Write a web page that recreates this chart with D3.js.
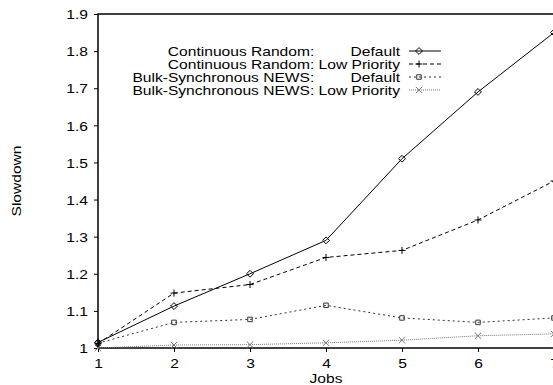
<!DOCTYPE html>
<html>
<head>
<meta charset="utf-8">
<script src="https://cdn.jsdelivr.net/npm/d3@7"></script>
<style>
  body { margin: 0; background: #fff; }
  svg { display: block; }
  text { font-family: "Liberation Sans", Arial, Helvetica, sans-serif; fill: #000; }
</style>
</head>
<body>
<div id="main"></div>
<script>
// data
const jobs = [1, 2, 3, 4, 5, 6, 7];
const crDefault = [1.015, 1.113, 1.2, 1.29, 1.51, 1.69, 1.85];
const crLow = [1.012, 1.148, 1.171, 1.244, 1.263, 1.345, 1.45];
const bulkDefault = [1.013, 1.069, 1.077, 1.115, 1.081, 1.069, 1.081];
const bulkLow = [1.0, 1.008, 1.009, 1.014, 1.021, 1.033, 1.038];
const yTicks = [1, 1.1, 1.2, 1.3, 1.4, 1.5, 1.6, 1.7, 1.8, 1.9];
const yTickLabels = ['1', '1.1', '1.2', '1.3', '1.4', '1.5', '1.6', '1.7', '1.8', '1.9'];
const legendPrefix = ['Continuous Random:', 'Continuous Random:', 'Bulk-Synchronous NEWS:', 'Bulk-Synchronous NEWS:'];
const legendSuffix = ['Default', 'Low Priority', 'Default', 'Low Priority'];

const width = 553, height = 385;
const plotLeft = 98, plotRight = 554, plotTop = 14, plotBottom = 348;
const SX = 1.2;      // text in the reference is drawn a bit wide
const fontSize = 13;

const series = [
  {values: crDefault, dash: null, color: '#000', marker: 'diamond'},
  {values: crLow, dash: '4,3', color: '#000', marker: 'plus'},
  {values: bulkDefault, dash: '2,3', color: '#333', marker: 'square'},
  {values: bulkLow, dash: '1,1', color: '#777', marker: 'cross'}
];

const svg = d3.select('#main').append('svg')
  .attr('width', width)
  .attr('height', height);

const x = d3.scaleLinear().domain([1, 7]).range([plotLeft, plotRight]);
const y = d3.scaleLinear().domain([1, 1.9]).range([plotBottom, plotTop]);

function stretchedText(g, tx, ty, str, anchor) {
  return g.append('text')
    .attr('transform', `translate(${tx},${ty}) scale(${SX},1)`)
    .attr('text-anchor', anchor)
    .attr('font-size', fontSize)
    .text(str);
}

// axes
const yAxis = svg.append('g')
  .attr('transform', `translate(${plotLeft},0)`)
  .call(d3.axisLeft(y).tickValues(yTicks).tickSize(4).tickFormat((d, i) => yTickLabels[i]));
const xAxis = svg.append('g')
  .attr('transform', `translate(0,${plotBottom})`)
  .call(d3.axisBottom(x).tickValues(jobs).tickSize(4).tickFormat(d3.format('d')));

[yAxis, xAxis].forEach(ax => {
  ax.select('.domain').remove();
  ax.selectAll('line').attr('stroke', '#000').attr('stroke-width', 1);
  ax.selectAll('text').attr('font-size', fontSize).attr('font-family', null);
});
yAxis.selectAll('text')
  .attr('x', null).attr('dy', '0.36em')
  .attr('transform', `translate(-10,0) scale(${SX},1)`);
xAxis.selectAll('text')
  .attr('y', null).attr('dy', null)
  .attr('transform', `translate(0,20) scale(${SX},1)`);

// frame
svg.append('rect')
  .attr('x', plotLeft).attr('y', plotTop)
  .attr('width', plotRight - plotLeft).attr('height', plotBottom - plotTop)
  .attr('fill', 'none').attr('stroke', '#000').attr('stroke-width', 1.5);

// axis titles
stretchedText(svg, x(4), 383, 'Jobs', 'middle');
svg.append('text')
  .attr('transform', `translate(21,${(plotTop + plotBottom) / 2}) rotate(-90) scale(${SX},1)`)
  .attr('text-anchor', 'middle')
  .attr('font-size', fontSize)
  .text('Slowdown');

// markers
const sym = {
  diamond: d3.symbol().type(d3.symbolDiamond2).size(30),
  square: d3.symbol().type(d3.symbolSquare2).size(26),
  cross: d3.symbol().type(d3.symbolX).size(28)
};

function drawMarker(g, type, cx, cy, color) {
  if (type === 'plus') {
    g.append('path')
      .attr('d', `M${cx - 3.5},${cy}H${cx + 3.5}M${cx},${cy - 3.5}V${cy + 3.5}`)
      .attr('stroke', color).attr('stroke-width', 1).attr('fill', 'none');
  } else {
    g.append('path')
      .attr('d', sym[type]())
      .attr('transform', `translate(${cx},${cy})`)
      .attr('fill', 'none').attr('stroke', color).attr('stroke-width', 1);
  }
}

const line = d3.line().x((d, i) => x(jobs[i])).y(d => y(d));
const plot = svg.append('g');

series.slice().reverse().forEach(s => {
  plot.append('path')
    .attr('d', line(s.values))
    .attr('fill', 'none')
    .attr('stroke', s.color)
    .attr('stroke-width', 1)
    .attr('stroke-dasharray', s.dash);
  s.values.forEach((v, i) => drawMarker(plot, s.marker, x(jobs[i]), y(v), s.color));
});

// legend
const legend = svg.append('g');
const textRight = 400;
const rowY = [51, 64, 77, 90];
series.forEach((s, i) => {
  const full = stretchedText(legend, textRight, rowY[i] + 4.5, legendPrefix[i] + ' Low Priority', 'end');
  if (legendSuffix[i] === 'Default') {
    const w = full.node().getComputedTextLength() * SX;
    full.remove();
    stretchedText(legend, textRight - w, rowY[i] + 4.5, legendPrefix[i], 'start');
    stretchedText(legend, textRight, rowY[i] + 4.5, 'Default', 'end');
  }
  legend.append('line')
    .attr('x1', 409).attr('x2', 441)
    .attr('y1', rowY[i]).attr('y2', rowY[i])
    .attr('stroke', s.color).attr('stroke-width', 1)
    .attr('stroke-dasharray', s.dash);
  drawMarker(legend, s.marker, 419, rowY[i], s.color);
});
</script>
</body>
</html>
